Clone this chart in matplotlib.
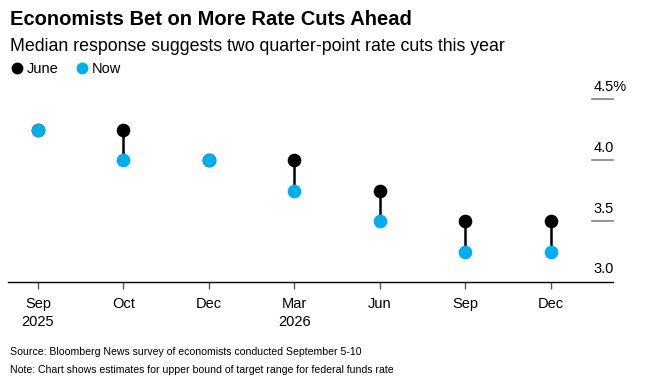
import matplotlib.pyplot as plt
from matplotlib.lines import Line2D

plt.rcParams['font.family'] = ['Liberation Sans', 'DejaVu Sans']

# Datos
months = ['Sep\n2025', 'Oct', 'Dec', 'Mar\n2026', 'Jun', 'Sep', 'Dec']
june = [4.25, 4.25, 4.0, 4.0, 3.75, 3.5, 3.5]
now = [4.25, 4.0, 4.0, 3.75, 3.5, 3.25, 3.25]
y_ticks = [3.0, 3.5, 4.0, 4.5]
y_labels = ['3.0', '3.5', '4.0', '4.5%']

BLUE = '#00aef0'

fig = plt.figure(figsize=(6.5, 3.81), dpi=100)
ax = fig.add_axes([0.0123, 0.2598, 0.9308, 0.512])

x = list(range(len(months)))
for xi, j, n in zip(x, june, now):
    ax.plot([xi, xi], [j, n], color='black', lw=1.8, zorder=2, solid_capstyle='butt')
ax.plot(x, june, 'o', color='black', ms=8.8, zorder=3)
ax.plot(x, now, 'o', color=BLUE, ms=8.8, zorder=4)

ax.set_xlim(-0.35, 6.73)
ax.set_ylim(3.0, 4.6)

for s in ['top', 'right', 'left']:
    ax.spines[s].set_visible(False)
ax.spines['bottom'].set_color('black')
ax.spines['bottom'].set_linewidth(1.0)

ax.set_yticks([])
ax.set_xticks(x)
ax.set_xticklabels(months, fontsize=10.5, linespacing=1.3)
ax.tick_params(axis='x', length=5, width=1, color='#555555', pad=6)

# Eje Y a la derecha: líneas cortas y etiquetas encima
gx0 = (592 - 8) / 650 / 0.9308
for yv, lab in zip(y_ticks, y_labels):
    if yv > 3.0:
        ax.plot([gx0, 1.0], [yv, yv], color='#808080', lw=1.2,
                transform=ax.get_yaxis_transform(), clip_on=False)
    ax.annotate(lab, xy=(gx0, yv), xycoords=ax.get_yaxis_transform(),
                xytext=(1, 4), textcoords='offset points',
                ha='left', va='bottom', fontsize=10.5)

# Título y subtítulo
fig.text(0.015, 0.975, 'Economists Bet on More Rate Cuts Ahead',
         fontsize=14.5, fontweight='bold', va='top')
fig.text(0.015, 0.9, 'Median response suggests two quarter-point rate cuts this year',
         fontsize=12.8, va='top')

handles = [Line2D([], [], marker='o', ls='', color='black', ms=7.5),
           Line2D([], [], marker='o', ls='', color=BLUE, ms=7.5)]
fig.legend(handles, ['June', 'Now'], loc='upper left', bbox_to_anchor=(0.003, 0.852),
           ncol=2, frameon=False, fontsize=10.5, handletextpad=0.1,
           columnspacing=1.0, handlelength=1.2, borderaxespad=0)

fig.text(0.015, 0.075, 'Source: Bloomberg News survey of economists conducted September 5-10',
         fontsize=7.6, va='center')
fig.text(0.015, 0.03, 'Note: Chart shows estimates for upper bound of target range for federal funds rate',
         fontsize=7.6, va='center')

fig.savefig('out.png', dpi=100)
